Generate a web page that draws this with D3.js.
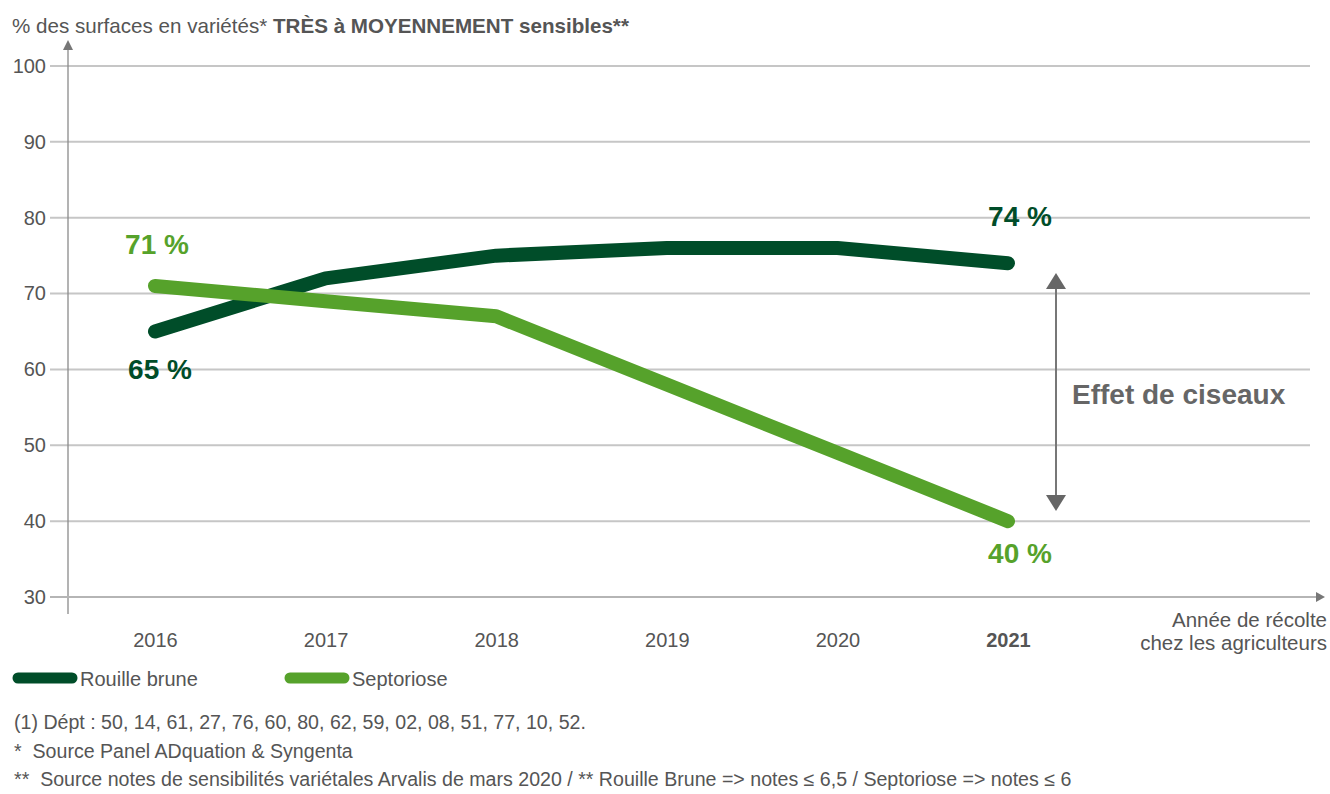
<!DOCTYPE html>
<html>
<head>
<meta charset="utf-8">
<script src="https://cdn.jsdelivr.net/npm/d3@7"></script>
<style>
  body { margin: 0; background: #fff; }
  text { font-family: "Liberation Sans", Arial, sans-serif; }
</style>
</head>
<body>
<div id="chart"></div>
<script>
// données
var years = ["2016", "2017", "2018", "2019", "2020", "2021"];
var rouilleBrune = [65, 72, 75, 76, 76, 74];
var septoriose = [71, 69, 67, 58, 49, 40];
var yTicks = [30, 40, 50, 60, 70, 80, 90, 100];
var footnotes = [
  "(1) Dépt : 50, 14, 61, 27, 76, 60, 80, 62, 59, 02, 08, 51, 77, 10, 52.",
  "*  Source Panel ADquation & Syngenta",
  "**  Source notes de sensibilités variétales Arvalis de mars 2020 / ** Rouille Brune => notes ≤ 6,5 / Septoriose => notes ≤ 6"
];

var width = 1330, height = 794;
var darkGreen = "#004d29", lightGreen = "#56a22b";

var svg = d3.select("#chart").append("svg")
  .attr("width", width)
  .attr("height", height);

// échelles
var x = d3.scalePoint().domain(years).range([155, 1008]);
var y = d3.scaleLinear().domain([30, 100]).range([597, 66]);

// titre
var title = svg.append("text").attr("x", 12).attr("y", 33)
  .attr("font-size", 20.6).attr("fill", "#555");
title.append("tspan").text("% des surfaces en variétés* ");
title.append("tspan").attr("font-weight", "bold").text("TRÈS à MOYENNEMENT sensibles**");

// grille horizontale
svg.append("g").selectAll("line")
  .data(yTicks.filter(function(d) { return d > 30; }))
  .enter().append("line")
  .attr("x1", 50).attr("x2", 1310)
  .attr("y1", function(d) { return y(d); })
  .attr("y2", function(d) { return y(d); })
  .attr("stroke", "#c6c6c6").attr("stroke-width", 2);

// axe Y
var yAxis = d3.axisLeft(y).tickValues(yTicks).tickSize(0).tickPadding(0);
var gy = svg.append("g").attr("transform", "translate(46,0)").call(yAxis);
gy.select(".domain").remove();
gy.selectAll("text").attr("font-size", 20).attr("fill", "#555")
  .attr("font-family", "Liberation Sans, Arial, sans-serif");

svg.append("line").attr("x1", 68).attr("x2", 68).attr("y1", 48).attr("y2", 614)
  .attr("stroke", "#8a8a8a").attr("stroke-width", 1.3);
svg.append("path").attr("d", "M63,50 L68,40 L73,50 Z").attr("fill", "#777");

// axe X
svg.append("line").attr("x1", 50).attr("x2", 1318).attr("y1", y(30)).attr("y2", y(30))
  .attr("stroke", "#b5b5b5").attr("stroke-width", 2);
svg.append("path").attr("d", "M1316,592 L1325,597 L1316,602 Z").attr("fill", "#777");

var xAxis = d3.axisBottom(x).tickSize(0).tickPadding(0);
var gx = svg.append("g").attr("transform", "translate(0,633)").call(xAxis);
gx.select(".domain").remove();
gx.selectAll("text").attr("font-size", 20).attr("fill", "#555")
  .attr("font-family", "Liberation Sans, Arial, sans-serif")
  .attr("font-weight", function(d) { return d === "2021" ? "bold" : "normal"; });

svg.append("text").attr("x", 1327).attr("y", 627).attr("text-anchor", "end")
  .attr("font-size", 20.5).attr("fill", "#555").text("Année de récolte");
svg.append("text").attr("x", 1327).attr("y", 650).attr("text-anchor", "end")
  .attr("font-size", 20.5).attr("fill", "#555").text("chez les agriculteurs");

// courbes
var line = d3.line()
  .x(function(d, i) { return x(years[i]); })
  .y(function(d) { return y(d); });

svg.append("path").datum(rouilleBrune).attr("d", line)
  .attr("fill", "none").attr("stroke", darkGreen).attr("stroke-width", 14)
  .attr("stroke-linecap", "round").attr("stroke-linejoin", "round");
svg.append("path").datum(septoriose).attr("d", line)
  .attr("fill", "none").attr("stroke", lightGreen).attr("stroke-width", 14)
  .attr("stroke-linecap", "round").attr("stroke-linejoin", "round");

// étiquettes de valeurs
function valueLabel(val, i, dx, dy, color) {
  svg.append("text").attr("x", x(years[i]) + dx).attr("y", y(val) + dy)
    .attr("text-anchor", "middle").attr("font-size", 28).attr("font-weight", "bold")
    .attr("fill", color).text(val + " %");
}
valueLabel(septoriose[0], 0, 2, -32, lightGreen);
valueLabel(rouilleBrune[0], 0, 5, 47, darkGreen);
valueLabel(rouilleBrune[5], 5, 12, -37, darkGreen);
valueLabel(septoriose[5], 5, 12, 42, lightGreen);

// effet de ciseaux
svg.append("line").attr("x1", 1056).attr("x2", 1056).attr("y1", 285).attr("y2", 500)
  .attr("stroke", "#777").attr("stroke-width", 2);
svg.append("path").attr("d", "M1046,289 L1056,273 L1066,289 Z").attr("fill", "#666");
svg.append("path").attr("d", "M1046,495 L1056,511 L1066,495 Z").attr("fill", "#666");
svg.append("text").attr("x", 1072).attr("y", 404).attr("font-size", 28)
  .attr("font-weight", "bold").attr("fill", "#666").text("Effet de ciseaux");

// légende
var legend = [{ name: "Rouille brune", color: darkGreen, x: 18 },
              { name: "Septoriose", color: lightGreen, x: 290 }];
var lg = svg.append("g").selectAll("g").data(legend).enter().append("g");
lg.append("line").attr("x1", function(d) { return d.x; }).attr("x2", function(d) { return d.x + 54; })
  .attr("y1", 678).attr("y2", 678).attr("stroke", function(d) { return d.color; })
  .attr("stroke-width", 11).attr("stroke-linecap", "round");
lg.append("text").attr("x", function(d) { return d.x + 62; }).attr("y", 686)
  .attr("font-size", 20).attr("fill", "#555").text(function(d) { return d.name; });

// notes
svg.append("g").selectAll("text").data(footnotes).enter().append("text")
  .attr("x", 14).attr("y", function(d, i) { return 729 + i * 28.5; })
  .attr("font-size", 19.6).attr("fill", "#555")
  .style("white-space", "pre")
  .text(function(d) { return d; });
</script>
</body>
</html>
